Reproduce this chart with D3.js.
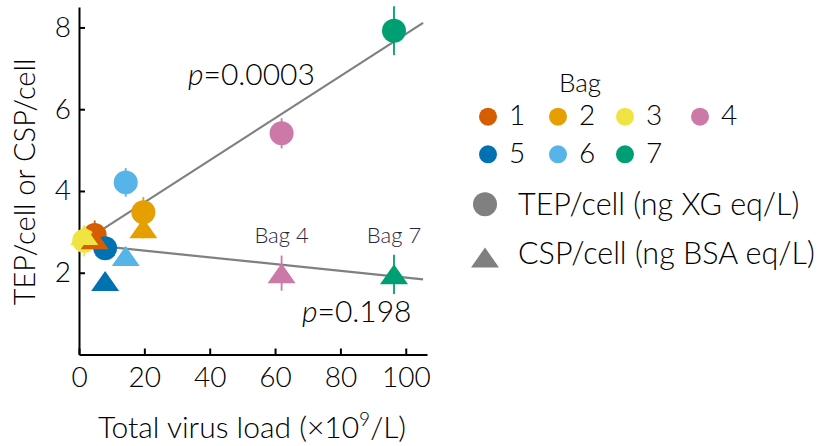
<!DOCTYPE html>
<html>
<head>
<meta charset="utf-8">
<script src="https://cdn.jsdelivr.net/npm/d3@7"></script>
<style>
  html, body { margin: 0; padding: 0; background: #fff; }
  svg text { font-family: Lato, "Open Sans", sans-serif; font-weight: 300; }
</style>
</head>
<body>
<svg id="chart" width="823" height="446"></svg>
<script>
// Bag measurements: virus load (x10^9/L), TEP/cell and CSP/cell with error bars
const bags = [1, 2, 3, 4, 5, 6, 7];
const bagColors = ["#D55E00", "#E69F00", "#F0E442", "#CC79A7", "#0072B2", "#56B4E9", "#009E73"];
const virusLoad = [4.8, 19.7, 1.6, 62.0, 8.0, 14.3, 96.4];
const tepPerCell = [2.92, 3.48, 2.78, 5.41, 2.60, 4.21, 7.92];
const tepError = [0.36, 0.37, 0.38, 0.37, 0.20, 0.35, 0.60];
const cspPerCell = [2.82, 3.09, 2.92, 1.99, 1.80, 2.41, 1.96];
const cspError = [0.20, 0.25, 0.20, 0.43, 0.15, 0.15, 0.48];

// Linear fits (slope, intercept) and their p-values
const tepFit = { slope: 0.0515, intercept: 2.69, p: "0.0003" };
const cspFit = { slope: -0.00823, intercept: 2.705, p: "0.198" };
const fitRange = [1.6, 105.3];

const xTicks = [0, 20, 40, 60, 80, 100];
const yTicks = [2, 4, 6, 8];
const labelledBags = [4, 7];

const svg = d3.select("#chart");
const x = d3.scaleLinear().domain([0, 106.5]).range([79, 427]);
const y = d3.scaleLinear().domain([0, 8.5]).range([354.5, 7]);

// Axes with inward ticks
const xAxis = svg.append("g").attr("transform", `translate(0,${y(0)})`)
  .call(d3.axisBottom(x).tickValues(xTicks).tickSize(-6).tickPadding(13).tickSizeOuter(0));
const yAxis = svg.append("g").attr("transform", `translate(${x(0)},0)`)
  .call(d3.axisLeft(y).tickValues(yTicks).tickSize(-6).tickPadding(8).tickSizeOuter(0));
[xAxis, yAxis].forEach(g => {
  g.select(".domain").attr("stroke", "#000").attr("stroke-width", 2);
  g.selectAll(".tick line").attr("stroke", "#000").attr("stroke-width", 2);
  g.selectAll(".tick text").attr("fill", "#000").style("font-size", "28px");
});
xAxis.selectAll(".tick text").attr("dy", "0.68em");

// Axis titles
const xTitle = svg.append("text").attr("x", 252).attr("y", 438)
  .attr("text-anchor", "middle").style("font-size", "30px").attr("fill", "#000");
xTitle.append("tspan").text("Total virus load (×10");
xTitle.append("tspan").attr("dy", -12).style("font-size", "19px").text("9");
xTitle.append("tspan").attr("dy", 12).text("/L)");

svg.append("text").attr("transform", "translate(35,182) rotate(-90)")
  .attr("text-anchor", "middle").style("font-size", "29px").attr("fill", "#000")
  .text("TEP/cell or CSP/cell");

// Regression lines
const fitLine = fit => d3.line()
  .x(d => x(d))
  .y(d => y(fit.intercept + fit.slope * d))(fitRange);
[tepFit, cspFit].forEach(fit => {
  svg.append("path").attr("d", fitLine(fit))
    .attr("fill", "none").attr("stroke", "#808080").attr("stroke-width", 2.2);
});

// Marker shapes
const triPath = "M0,-10L14,10L-14,10Z";

// TEP: error bars and circles
const tepLayer = svg.append("g");
bags.forEach((b, i) => {
  const xi = x(virusLoad[i]);
  tepLayer.append("line").attr("x1", xi).attr("x2", xi)
    .attr("y1", y(tepPerCell[i] - tepError[i])).attr("y2", y(tepPerCell[i] + tepError[i]))
    .attr("stroke", bagColors[i]).attr("stroke-width", 1.8);
  tepLayer.append("circle").attr("cx", xi).attr("cy", y(tepPerCell[i]))
    .attr("r", 12).attr("fill", bagColors[i]);
});

// CSP: error bars and triangles, drawn above the circles
const cspLayer = svg.append("g");
bags.forEach((b, i) => {
  const xi = x(virusLoad[i]);
  cspLayer.append("line").attr("x1", xi).attr("x2", xi)
    .attr("y1", y(cspPerCell[i] - cspError[i])).attr("y2", y(cspPerCell[i] + cspError[i]))
    .attr("stroke", bagColors[i]).attr("stroke-width", 1.8);
  cspLayer.append("path").attr("d", triPath)
    .attr("transform", `translate(${xi},${y(cspPerCell[i])})`).attr("fill", bagColors[i]);
});

// Bag labels above selected triangles
labelledBags.forEach(b => {
  const i = bags.indexOf(b);
  svg.append("text").attr("x", x(virusLoad[i])).attr("y", 243)
    .attr("text-anchor", "middle").style("font-size", "22px").attr("fill", "#2b2440")
    .text(`Bag ${b}`);
});

// p-value annotations
function pLabel(px, py, value) {
  const t = svg.append("text").attr("x", px).attr("y", py)
    .style("font-size", "30px").attr("fill", "#000");
  t.append("tspan").style("font-style", "italic").text("p");
  t.append("tspan").text("=" + value);
}
pLabel(188, 85, tepFit.p);
pLabel(302, 322, cspFit.p);

// Legend
const legend = svg.append("g");
legend.append("text").attr("x", 580).attr("y", 92).attr("text-anchor", "middle")
  .style("font-size", "26px").attr("fill", "#000").text("Bag");
const legendCols = [488, 558, 625, 700];
const legendRows = [116.7, 154.3];
bags.forEach((b, i) => {
  const cx = legendCols[i % 4];
  const cy = legendRows[Math.floor(i / 4)];
  legend.append("circle").attr("cx", cx).attr("cy", cy).attr("r", 9).attr("fill", bagColors[i]);
  legend.append("text").attr("x", cx + 21).attr("y", cy + 8.7)
    .style("font-size", "28px").attr("fill", "#000").text(b);
});
legend.append("circle").attr("cx", 485).attr("cy", 204.3).attr("r", 12).attr("fill", "#808080");
legend.append("text").attr("x", 518).attr("y", 215).style("font-size", "30.5px")
  .attr("fill", "#000").text("TEP/cell (ng XG eq/L)");
legend.append("path").attr("d", triPath).attr("transform", "translate(485,257.5)").attr("fill", "#808080");
legend.append("text").attr("x", 518).attr("y", 264).style("font-size", "30.5px")
  .attr("fill", "#000").text("CSP/cell (ng BSA eq/L)");
</script>
</body>
</html>
